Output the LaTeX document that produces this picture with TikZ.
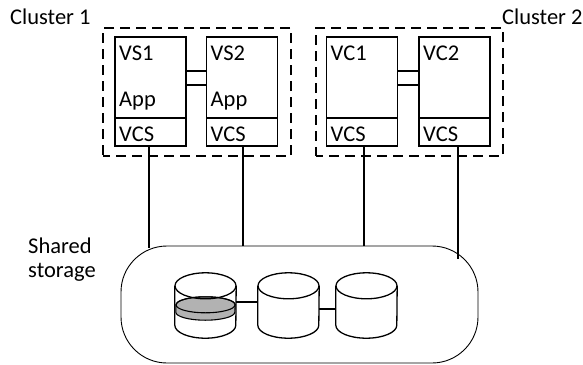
\documentclass[tikz,border=0pt]{standalone}
\usepackage{fontspec}
\setmainfont{Carlito}

\tikzset{
  srv/.style={draw, line width=1.6pt, minimum width=71pt, inner sep=0pt},
  lbl/.style={anchor=base west, inner sep=0pt},
  grp/.style={draw, line width=1.4pt, dash pattern=on 10pt off 6pt, dash phase=3pt, inner sep=0pt},
  link/.style={line width=1.6pt},
  diskbody/.style={minimum width=61pt, minimum height=39pt, inner sep=0pt},
  diskline/.style={line width=1.3pt},
}

\begin{document}
\begin{tikzpicture}[x=1pt, y=-1pt, font=\fontsize{22.5}{24}\selectfont]
      \useasboundingbox (0,0) rectangle (583,364);
      % clusters
      \node[grp, minimum width=188pt, minimum height=128pt] (cl1) at (197,92) {};
      \node[grp, minimum width=187pt, minimum height=128pt] (cl2) at (409.5,92) {};
      \node[lbl] (cl1txt) at (10,24) {Cluster 1};
      \node[lbl] (cl2txt) at (502,24) {Cluster 2};
      % servers
      \node[srv, minimum height=81pt] (vs1) at (150.5,77.5) {};
      \node[srv, minimum height=28pt] (vs1c) at (150.5,132) {};
      \node[srv, minimum height=81pt] (vs2) at (242,77.5) {};
      \node[srv, minimum height=28pt] (vs2c) at (242,132) {};
      \node[srv, minimum height=81pt] (vc1) at (362,77.5) {};
      \node[srv, minimum height=28pt] (vc1c) at (362,132) {};
      \node[srv, minimum height=81pt] (vc2) at (454.5,77.5) {};
      \node[srv, minimum height=28pt] (vc2c) at (454.5,132) {};
      \node[lbl] (vs1txt) at (119,60.5) {VS1};
      \node[lbl] (vs1app) at (119,106) {App};
      \node[lbl] (vs1vcs) at (119,141.5) {VCS};
      \node[lbl] (vs2txt) at (210.5,60.5) {VS2};
      \node[lbl] (vs2app) at (210.5,106) {App};
      \node[lbl] (vs2vcs) at (210.5,141.5) {VCS};
      \node[lbl] (vc1txt) at (330.5,60.5) {VC1};
      \node[lbl] (vc1vcs) at (330.5,141.5) {VCS};
      \node[lbl] (vc2txt) at (423,60.5) {VC2};
      \node[lbl] (vc2vcs) at (423,141.5) {VCS};
      \draw[link] ([yshift=6.5pt]vs1.east) -- ([yshift=6.5pt]vs2.west);
      \draw[link] ([yshift=-7.5pt]vs1.east) -- ([yshift=-7.5pt]vs2.west);
      \draw[link] ([yshift=6.5pt]vc1.east) -- ([yshift=6.5pt]vc2.west);
      \draw[link] ([yshift=-7.5pt]vc1.east) -- ([yshift=-7.5pt]vc2.west);
      % storage
      \node[draw, line width=0.9pt, rounded corners=46pt, minimum width=357pt,
        minimum height=117pt, inner sep=0pt] (store) at (299.5,304.5) {};
      \node[lbl, align=left] (storetxt) at (28,277) {Shared\\storage};
      \coordinate (e1) at (149,248);
      \coordinate (e2) at (243,246);
      \coordinate (e3) at (364,246);
      \coordinate (e4) at (458,259);
      \draw[link] (vs1c.south -| e1) -- (e1);
      \draw[link] (vs2c.south -| e2) -- (e2);
      \draw[link] (vc1c.south -| e3) -- (e3);
      \draw[link] (vc2c.south -| e4) -- (e4);
      % disks
      \node[minimum width=59pt, minimum height=7pt, inner sep=0pt] (plat) at (205.5,308.5) {};
      \filldraw[line width=1.1pt, fill=gray!60] (plat.north west) -- (plat.south west)
        arc[start angle=180, end angle=360, x radius=29.5pt, y radius=8pt] -- (plat.north east)
        arc[start angle=0, end angle=180, x radius=29.5pt, y radius=8pt] -- cycle;
      \draw[line width=1.1pt] (plat.north) ellipse[x radius=29.5pt, y radius=8pt];
      \node[diskbody] (d1) at (205.5,305.5) {};
      \node[diskbody] (d2) at (288.5,305.5) {};
      \node[diskbody] (d3) at (366.5,305.5) {};
      \draw[diskline] (d1.north west) -- (d1.south west)
        arc[start angle=180, end angle=360, x radius=30.5pt, y radius=13pt] -- (d1.north east);
      \draw[diskline] (d1.north) ellipse[x radius=30.5pt, y radius=13pt];
      \draw[diskline] (d2.north west) -- (d2.south west)
        arc[start angle=180, end angle=360, x radius=30.5pt, y radius=13pt] -- (d2.north east);
      \draw[diskline] (d2.north) ellipse[x radius=30.5pt, y radius=13pt];
      \draw[diskline] (d3.north west) -- (d3.south west)
        arc[start angle=180, end angle=360, x radius=30.5pt, y radius=13pt] -- (d3.north east);
      \draw[diskline] (d3.north) ellipse[x radius=30.5pt, y radius=13pt];
      \draw[link] ([yshift=3.5pt]d1.east) -- ([yshift=3.5pt]d2.west);
      \draw[link] ([yshift=-3.5pt]d2.east) -- ([yshift=-3.5pt]d3.west);
\end{tikzpicture}
\end{document}
